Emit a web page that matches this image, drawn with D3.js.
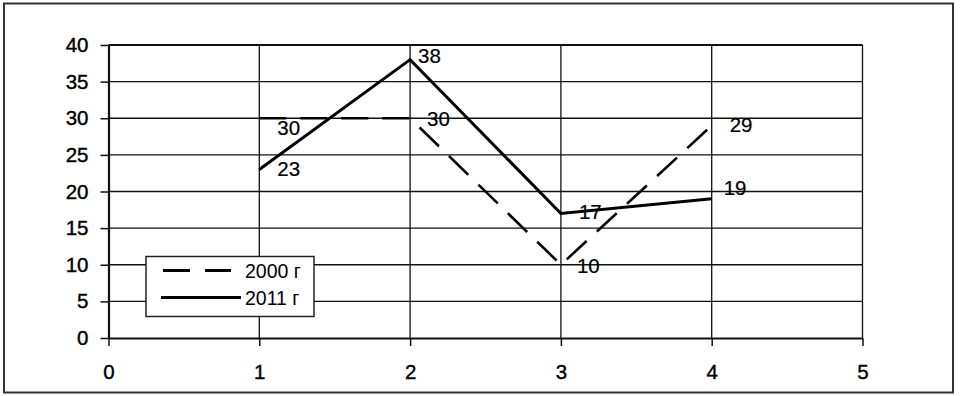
<!DOCTYPE html>
<html>
<head>
<meta charset="utf-8">
<script src="https://cdn.jsdelivr.net/npm/d3@7"></script>
<style>
  html, body { margin: 0; padding: 0; background: #fff; }
  svg { display: block; font-family: "Liberation Sans", Arial, sans-serif; }
</style>
</head>
<body>
<svg id="chart" width="960" height="396"></svg>
<script>
// ---- data ----
const xValues = [1, 2, 3, 4];
const series2000 = [30, 30, 10, 29];
const series2011 = [23, 38, 17, 19];
const seriesNames = ["2000 г", "2011 г"];
const xTicks = [0, 1, 2, 3, 4, 5];
const yTicks = [0, 5, 10, 15, 20, 25, 30, 35, 40];

// ---- layout (label nudges, px) ----
const nudge2000 = [[0, 9], [-1, 0], [-2, 1], [0, -1]];
const nudge2011 = [[0, -1], [-10, -4], [0, -2], [-6, -11]];

const FS = 20.5;
const svg = d3.select("#chart");
const x = d3.scaleLinear().domain([0, 5]).range([108.5, 862.5]);
const y = d3.scaleLinear().domain([0, 40]).range([338, 45]);

// outer frame
svg.append("rect").attr("x", 4).attr("y", 3.5).attr("width", 949).attr("height", 389)
  .attr("fill", "#fff").attr("stroke", "#333").attr("stroke-width", 2);

// grid
const grid = svg.append("g").attr("stroke", "#111").attr("stroke-width", 1.3);
grid.selectAll("line.h").data(yTicks.filter(d => d > 0)).join("line")
  .attr("x1", x(0)).attr("x2", x(5)).attr("y1", d => y(d)).attr("y2", d => y(d))
  .attr("stroke-width", d => d === 40 ? 2 : 1.3);
grid.selectAll("line.v").data(xTicks.filter(d => d > 0)).join("line")
  .attr("x1", d => x(d)).attr("x2", d => x(d)).attr("y1", y(0)).attr("y2", y(40));

// axes
const yAxis = svg.append("g").attr("transform", `translate(${x(0)},0)`)
  .call(d3.axisLeft(y).tickValues(yTicks).tickFormat(d3.format("d")).tickSize(8).tickPadding(12).tickSizeOuter(0));
const xAxis = svg.append("g").attr("transform", `translate(0,${y(0)})`)
  .call(d3.axisBottom(x).tickValues(xTicks).tickFormat(d3.format("d")).tickSize(8).tickPadding(18).tickSizeOuter(0));
[yAxis, xAxis].forEach(a => {
  a.select(".domain").attr("stroke", "#111").attr("stroke-width", 2.2);
  a.selectAll(".tick line").attr("stroke", "#111").attr("stroke-width", 1.5);
  a.selectAll(".tick text").attr("fill", "#000").attr("stroke", "#000").attr("stroke-width", 0.4)
    .style("font-size", FS + "px")
    .style("font-family", "'Liberation Sans', Arial, sans-serif");
});

// lines
const line = d3.line().x((d, i) => x(xValues[i])).y(d => y(d));
svg.append("path").datum(series2000).attr("d", line).attr("fill", "none")
  .attr("stroke", "#000").attr("stroke-width", 2.6).attr("stroke-dasharray", "27,14");
svg.append("path").datum(series2011).attr("d", line).attr("fill", "none")
  .attr("stroke", "#000").attr("stroke-width", 3).attr("stroke-linejoin", "miter");

// data labels
function labels(data, nudges) {
  svg.append("g").selectAll("text").data(data).join("text")
    .attr("x", (d, i) => x(xValues[i]) + 18 + nudges[i][0])
    .attr("y", (d, i) => y(d) + nudges[i][1])
    .attr("dy", "0.36em")
    .attr("font-size", FS).attr("fill", "#000").attr("stroke", "#000").attr("stroke-width", 0.2)
    .text(d => d);
}
labels(series2000, nudge2000);
labels(series2011, nudge2011);

// legend
const lg = svg.append("g");
lg.append("rect").attr("x", 146).attr("y", 256.5).attr("width", 168).attr("height", 60)
  .attr("fill", "#fff").attr("stroke", "#222").attr("stroke-width", 1.5);
const rows = [
  { name: seriesNames[0], dash: "27,15", y: 270.5, x1: 163, x2: 231 },
  { name: seriesNames[1], dash: null, y: 297.5, x1: 161, x2: 241 }
];
rows.forEach(r => {
  lg.append("line").attr("x1", r.x1).attr("x2", r.x2).attr("y1", r.y).attr("y2", r.y)
    .attr("stroke", "#000").attr("stroke-width", 3).attr("stroke-dasharray", r.dash);
  lg.append("text").attr("x", 245).attr("y", r.y).attr("dy", "0.36em")
    .attr("font-size", 19.5).attr("fill", "#000").text(r.name);
});
</script>
</body>
</html>
